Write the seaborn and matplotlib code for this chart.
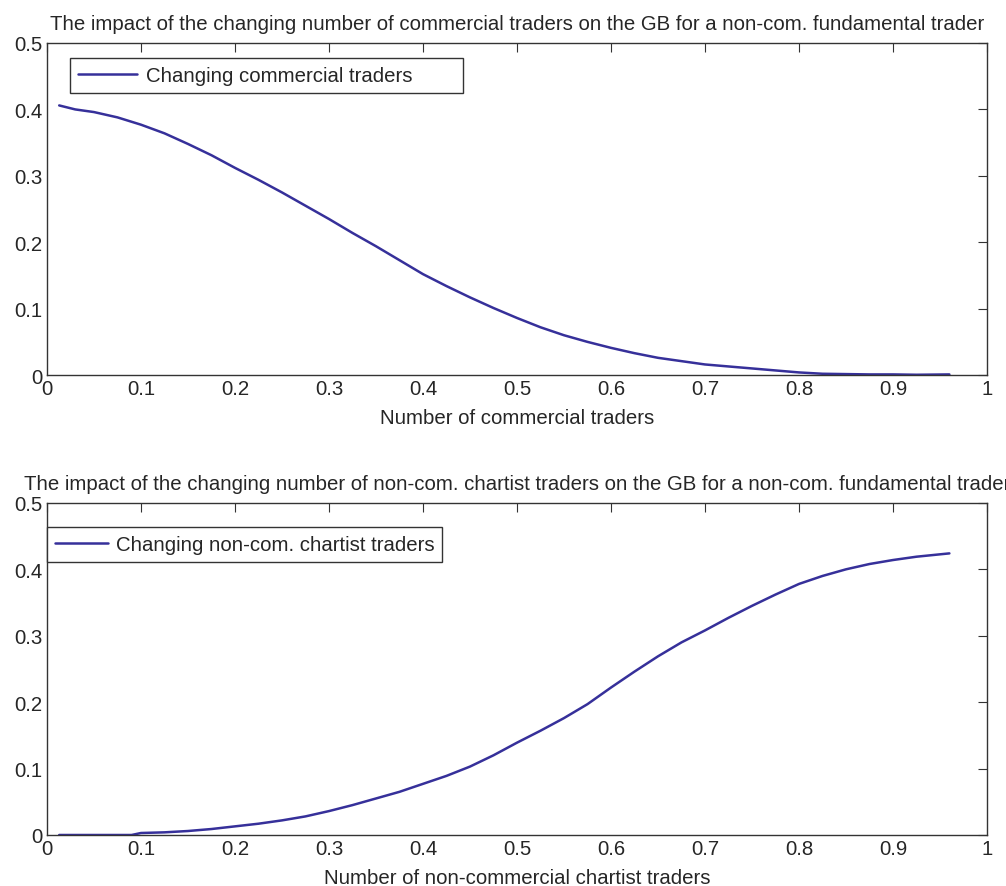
import matplotlib
matplotlib.use("Agg")
import matplotlib.pyplot as plt
import seaborn as sns
import pandas as pd

# ---- data ----
x_com = [0.013, 0.03, 0.05, 0.075, 0.1, 0.125, 0.15, 0.175, 0.2, 0.225, 0.25, 0.275,
         0.3, 0.325, 0.35, 0.375, 0.4, 0.425, 0.45, 0.475, 0.5, 0.525, 0.55, 0.575,
         0.6, 0.625, 0.65, 0.675, 0.7, 0.725, 0.75, 0.775, 0.8, 0.825, 0.85, 0.875,
         0.9, 0.925, 0.96]
y_com = [0.406, 0.400, 0.396, 0.388, 0.377, 0.364, 0.348, 0.331, 0.312, 0.294, 0.275, 0.255,
         0.235, 0.214, 0.194, 0.173, 0.152, 0.134, 0.117, 0.101, 0.086, 0.072, 0.060, 0.050,
         0.041, 0.033, 0.026, 0.021, 0.016, 0.013, 0.010, 0.007, 0.004, 0.002, 0.0015, 0.001,
         0.001, 0.0005, 0.001]

x_chart = [0.013, 0.05, 0.09, 0.1, 0.125, 0.15, 0.175, 0.2, 0.225, 0.25, 0.275,
           0.3, 0.325, 0.35, 0.375, 0.4, 0.425, 0.45, 0.475, 0.5, 0.525, 0.55, 0.575,
           0.6, 0.625, 0.65, 0.675, 0.7, 0.725, 0.75, 0.775, 0.8, 0.825, 0.85, 0.875,
           0.9, 0.925, 0.96]
y_chart = [0.000, 0.000, 0.000, 0.003, 0.004, 0.006, 0.009, 0.013, 0.017, 0.022, 0.028,
           0.036, 0.045, 0.055, 0.065, 0.077, 0.089, 0.103, 0.120, 0.139, 0.157, 0.176, 0.197,
           0.222, 0.246, 0.269, 0.290, 0.308, 0.327, 0.345, 0.362, 0.378, 0.390, 0.400, 0.408,
           0.414, 0.419, 0.424]

x_ticks = [0, 0.1, 0.2, 0.3, 0.4, 0.5, 0.6, 0.7, 0.8, 0.9, 1]
x_ticklabels = ["0", "0.1", "0.2", "0.3", "0.4", "0.5", "0.6", "0.7", "0.8", "0.9", "1"]
y_ticks = [0, 0.1, 0.2, 0.3, 0.4, 0.5]
y_ticklabels = ["0", "0.1", "0.2", "0.3", "0.4", "0.5"]

titles = ["The impact of the changing number of commercial traders on the GB for a non-com. fundamental trader",
          "The impact of the changing number of non-com. chartist traders on the GB for a non-com. fundamental trader"]
xlabels = ["Number of commercial traders", "Number of non-commercial chartist traders"]
legends = ["Changing commercial traders", "Changing non-com. chartist traders"]

# ---- style ----
sns.set_theme(style="white")
plt.rcParams["font.family"] = ["Liberation Sans", "DejaVu Sans"]
TXT = "#262626"
LINE = "#36309a"
FS = 14.7

fig = plt.figure(figsize=(10.06, 8.87), dpi=100)
ax1 = fig.add_axes([0.0467, 0.576, 0.9344, 0.3744])
ax2 = fig.add_axes([0.0467, 0.0575, 0.9344, 0.3744])

series = [(x_com, y_com), (x_chart, y_chart)]
leg_box = [(0.0245, 0.955, 0.418, 0.0), (0.0, 0.928, 0.42, 0.0)]
leg_handle = [2.9, 2.6]

for i, ax in enumerate([ax1, ax2]):
    df = pd.DataFrame({"x": series[i][0], "y": series[i][1]})
    sns.lineplot(data=df, x="x", y="y", ax=ax, color=LINE, linewidth=1.8, label=legends[i])
    ax.set_xlim(0, 1)
    ax.set_ylim(0, 0.5)
    ax.set_xticks(x_ticks)
    ax.set_xticklabels(x_ticklabels)
    ax.set_yticks(y_ticks)
    ax.set_yticklabels(y_ticklabels)
    ax.tick_params(direction="in", length=6.5, width=0.8, colors="#333333",
                   top=True, right=True, labelsize=FS, labelcolor=TXT, pad=3)
    for s in ax.spines.values():
        s.set_color("#333333")
        s.set_linewidth(1.0)
        s.set_visible(True)
    ax.set_xlabel(xlabels[i], fontsize=FS, color=TXT, labelpad=7)
    ax.set_ylabel("")
    ax.set_title(titles[i], fontsize=FS, color=TXT, pad=10)
    leg = ax.legend(loc="upper left", bbox_to_anchor=leg_box[i], mode="expand",
                    borderaxespad=0, fontsize=FS, frameon=True, fancybox=False,
                    handlelength=leg_handle[i], borderpad=0.4, handletextpad=0.4,
                    framealpha=1)
    leg.get_frame().set_edgecolor("#333333")
    leg.get_frame().set_linewidth(1.0)
    for t in leg.get_texts():
        t.set_color(TXT)

fig.savefig("out.png", dpi=100)
